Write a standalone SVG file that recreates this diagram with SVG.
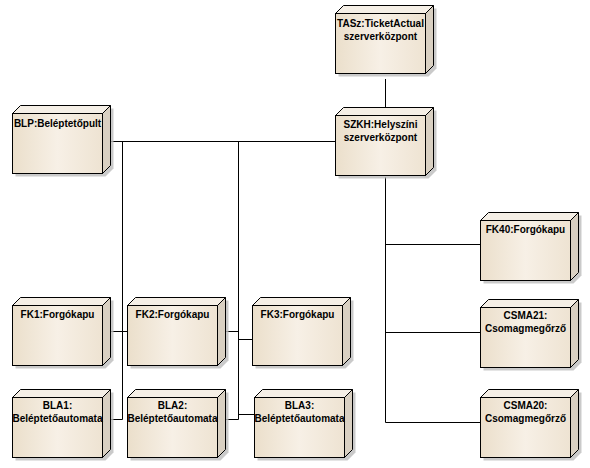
<svg xmlns="http://www.w3.org/2000/svg" xmlns:xlink="http://www.w3.org/1999/xlink" width="590" height="468" viewBox="0 0 590 468">
<style>
.ln{fill:none;stroke:#000;stroke-width:1}
.lbl{font-family:"Liberation Sans",Arial,sans-serif;font-weight:bold;font-size:10px;fill:#000;text-anchor:middle}
.edge{stroke:#000;stroke-width:1}
</style>
<defs>
<linearGradient id="gf" x1="0" y1="0" x2="1" y2="0">
<stop offset="0" stop-color="#EBDFCB"/>
<stop offset="0.5" stop-color="#F7F0E6"/>
<stop offset="1" stop-color="#EEE3D2"/>
</linearGradient>
<g id="shape">
<polygon points="3.5,11.5 11.5,3.5 101.5,3.5 101.5,63.5 93.5,71.5 3.5,71.5" fill="#BDBDBD" fill-opacity="0.8"/>
<polygon class="edge" points="0.5,8.5 8.5,0.5 98.5,0.5 90.5,8.5" fill="#F5EFE6"/>
<polygon class="edge" points="90.5,8.5 98.5,0.5 98.5,60.5 90.5,68.5" fill="#D9D0C2"/>
<rect class="edge" x="0.5" y="8.5" width="90" height="60" fill="url(#gf)"/>
</g>
</defs>
<rect width="590" height="468" fill="#fff"/>
<g id="connectors" class="ln">
<path d="M385.5,79 V107"/>
<path d="M110,141.5 H335"/>
<path d="M122.5,141.5 V419.5"/>
<path d="M110,331.5 H127"/>
<path d="M110,419.5 H122.5"/>
<path d="M238.5,141.5 V419.5"/>
<path d="M225,331.5 H238.5"/>
<path d="M238.5,339.5 H252"/>
<path d="M226,419.5 H238.5"/>
<path d="M238.5,414.5 H254"/>
<path d="M385.5,177 V422.5"/>
<path d="M385.5,244.5 H480"/>
<path d="M385.5,332.5 H480"/>
<path d="M385.5,422.5 H480"/>
</g>
<g id="TASz" transform="translate(335,5)"><use xlink:href="#shape"/><text class="lbl" x="45.5" y="22">TASz:TicketActual</text><text class="lbl" x="45.5" y="35">szerverközpont</text></g>
<g id="SZKH" transform="translate(335,107)"><use xlink:href="#shape"/><text class="lbl" x="45.5" y="21">SZKH:Helyszíni</text><text class="lbl" x="45.5" y="34">szerverközpont</text></g>
<g id="BLP" transform="translate(12,105)"><use xlink:href="#shape"/><text class="lbl" x="45.5" y="22">BLP:Beléptetőpult</text></g>
<g id="FK40" transform="translate(480,212)"><use xlink:href="#shape"/><text class="lbl" x="45.5" y="21">FK40:Forgókapu</text></g>
<g id="CSMA21" transform="translate(480,299)"><use xlink:href="#shape"/><text class="lbl" x="45.5" y="20">CSMA21:</text><text class="lbl" x="45.5" y="33">Csomagmegőrző</text></g>
<g id="CSMA20" transform="translate(480,389)"><use xlink:href="#shape"/><text class="lbl" x="45.5" y="20">CSMA20:</text><text class="lbl" x="45.5" y="33">Csomagmegőrző</text></g>
<g id="FK1" transform="translate(12,297)"><use xlink:href="#shape"/><text class="lbl" x="45.5" y="21">FK1:Forgókapu</text></g>
<g id="FK2" transform="translate(127,297)"><use xlink:href="#shape"/><text class="lbl" x="45.5" y="21">FK2:Forgókapu</text></g>
<g id="FK3" transform="translate(252,297)"><use xlink:href="#shape"/><text class="lbl" x="45.5" y="21">FK3:Forgókapu</text></g>
<g id="BLA1" transform="translate(12,389)"><use xlink:href="#shape"/><text class="lbl" x="45.5" y="20">BLA1:</text><text class="lbl" x="45.5" y="33">Beléptetőautomata</text></g>
<g id="BLA2" transform="translate(127,389)"><use xlink:href="#shape"/><text class="lbl" x="45.5" y="20">BLA2:</text><text class="lbl" x="45.5" y="33">Beléptetőautomata</text></g>
<g id="BLA3" transform="translate(254,389)"><use xlink:href="#shape"/><text class="lbl" x="45.5" y="20">BLA3:</text><text class="lbl" x="45.5" y="33">Beléptetőautomata</text></g>
</svg>
